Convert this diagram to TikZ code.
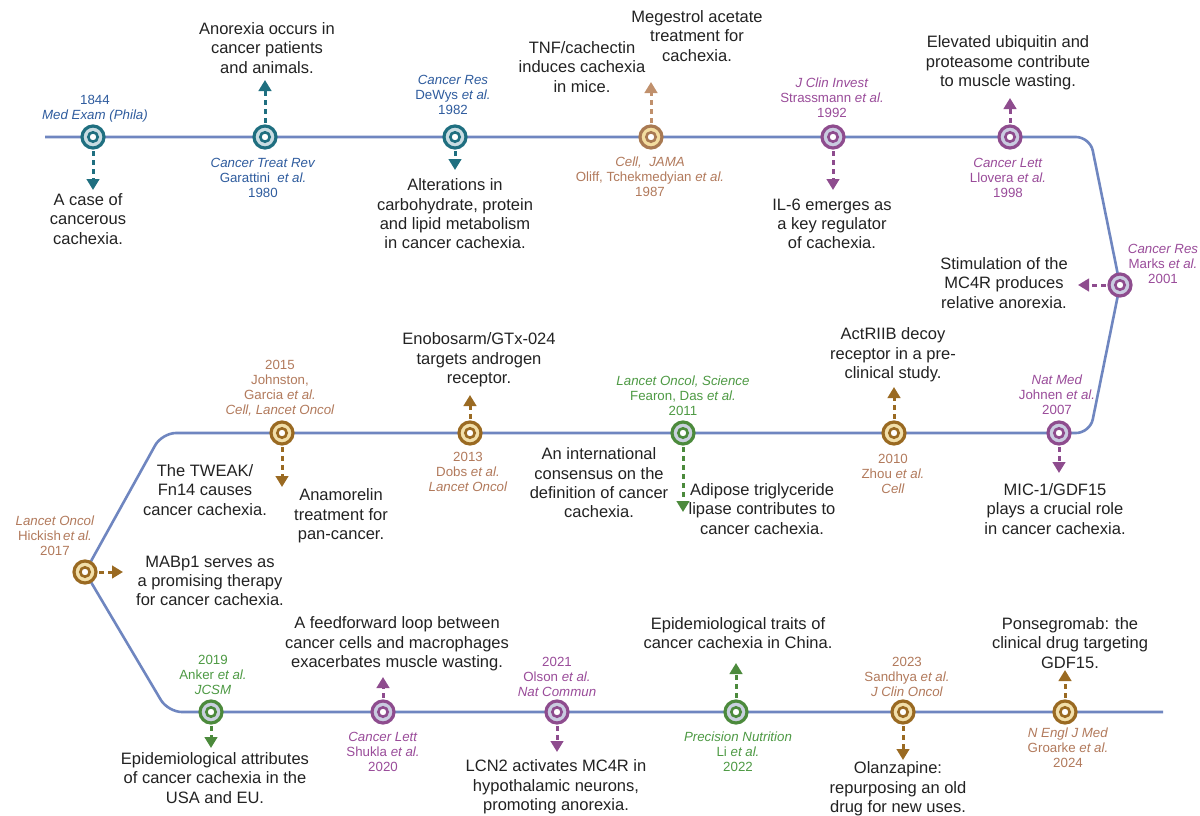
\documentclass[tikz,border=0pt]{standalone}
\usepackage{fontspec}
\setmainfont{Liberation Sans}
\usetikzlibrary{arrows.meta}
\definecolor{linec}{HTML}{6F86C0}
\definecolor{txtc}{HTML}{222222}
\definecolor{tealR}{HTML}{1F6F80}
\definecolor{tealF}{HTML}{C9DCE2}
\definecolor{blueC}{HTML}{2F5C9E}
\definecolor{tanR}{HTML}{A97A52}
\definecolor{tanF}{HTML}{F3DDA0}
\definecolor{tanA}{HTML}{C0906C}
\definecolor{brownC}{HTML}{B27A5C}
\definecolor{goldR}{HTML}{9A6A22}
\definecolor{goldF}{HTML}{F2DFAA}
\definecolor{purR}{HTML}{8E4C8E}
\definecolor{purF}{HTML}{C9CBE0}
\definecolor{purC}{HTML}{9A4C9A}
\definecolor{grnR}{HTML}{4C8A3C}
\definecolor{grnF}{HTML}{C9D0DE}
\definecolor{grnC}{HTML}{4E9A44}
\tikzset{
  tl/.style={draw=linec, line width=2.6pt, rounded corners=14pt},
  evn/.style={circle, line width=3.2pt, minimum size=22pt, inner sep=0pt},
  arr/.style={dash pattern=on 5pt off 4pt, line width=3pt, shorten <=1.5pt, -{Triangle[width=12.5pt,length=11pt]}},
  txt/.style={font=\fontsize{16.5}{19.3}\selectfont, text=txtc, align=center, inner sep=0pt},
  cit/.style={font=\fontsize{13.3}{15}\selectfont, align=center, inner sep=0pt}
}
\newcommand{\evmark}[4]{%
  \node[evn, draw=#3, fill=#4] (#1) at (#2) {};
  \fill[white, draw=#3, line width=2.6pt] (#1.center) circle (4.7pt);}
\begin{document}
\begin{tikzpicture}[x=1pt, y=-1pt]
\useasboundingbox[fill=white] (0,0) rectangle (1200,815);
% main time line
\draw[tl] (45,137) -- (1090,137) -- (1120,285) -- (1090,433) -- (162,433) -- (85,572) -- (168,712) -- (1163,712);

% ---------- 1844 ----------
\evmark{m1844}{93,137}{tealR}{tealF}
\node[cit, text=blueC] (c1844) at (95,109) {1844\\\textit{Med Exam (Phila)}};
\coordinate (a1844) at (93,190);
\draw[arr, draw=tealR] (m1844) -- (a1844);
\node[txt] (t1844) at (88,219) {A case of\\cancerous\\cachexia.};

% ---------- 1980 ----------
\evmark{m1980}{265,137}{tealR}{tealF}
\coordinate (a1980) at (265,80);
\draw[arr, draw=tealR] (m1980) -- (a1980);
\node[txt] (t1980) at (267,48) {Anorexia occurs in\\cancer patients\\and animals.};
\node[cit, text=blueC] (c1980) at (263,178) {\textit{Cancer Treat Rev}\\Garattini\ \ \textit{et al.}\\1980};

% ---------- 1982 ----------
\evmark{m1982}{455,137}{tealR}{tealF}
\node[cit, text=blueC] (c1982) at (453,95) {\textit{Cancer Res}\\DeWys \textit{et al.}\\1982};
\coordinate (a1982) at (455,170);
\draw[arr, draw=tealR] (m1982) -- (a1982);
\node[txt] (t1982) at (455,214) {Alterations in\\carbohydrate, protein\\and lipid metabolism\\in cancer cachexia.};

% ---------- 1987 ----------
\evmark{m1987}{651,137}{tanR}{tanF}
\coordinate (a1987) at (651,82);
\draw[arr, draw=tanA] (m1987) -- (a1987);
\node[txt] (t1987a) at (582,67) {TNF/cachectin\\induces cachexia\\in mice.};
\node[txt] (t1987b) at (697,36) {Megestrol acetate\\treatment for\\cachexia.};
\node[cit, text=brownC] (c1987) at (650,177) {\textit{Cell,\ \ JAMA}\\Oliff, Tchekmedyian \textit{et al.}\\1987};

% ---------- 1992 ----------
\evmark{m1992}{833,137}{purR}{purF}
\node[cit, text=purC] (c1992) at (832,98) {\textit{J Clin Invest}\\Strassmann \textit{et al.}\\1992};
\coordinate (a1992) at (833,190);
\draw[arr, draw=purR] (m1992) -- (a1992);
\node[txt] (t1992) at (832,224) {IL-6 emerges as\\a key regulator\\of cachexia.};

% ---------- 1998 ----------
\evmark{m1998}{1010,137}{purR}{purF}
\coordinate (a1998) at (1010,98);
\draw[arr, draw=purR] (m1998) -- (a1998);
\node[txt] (t1998) at (1008,63) {Elevated ubiquitin and\\proteasome contribute\\to muscle wasting.};
\node[cit, text=purC] (c1998) at (1008,178) {\textit{Cancer Lett}\\Llovera \textit{et al.}\\1998};

% ---------- 2001 ----------
\evmark{m2001}{1120,285}{purR}{purF}
\node[cit, text=purC] (c2001) at (1163,264) {\textit{Cancer Res}\\Marks \textit{et al.}\\2001};
\coordinate (a2001) at (1078,285);
\draw[arr, draw=purR] (m2001) -- (a2001);
\node[txt] (t2001) at (1004,283) {Stimulation of the\\MC4R produces\\relative anorexia.};

% ---------- 2007 ----------
\evmark{m2007}{1059,433}{purR}{purF}
\node[cit, text=purC] (c2007) at (1057,395) {\textit{Nat Med}\\Johnen \textit{et al.}\\2007};
\coordinate (a2007) at (1059,473);
\draw[arr, draw=purR] (m2007) -- (a2007);
\node[txt] (t2007) at (1055,509) {MIC-1/GDF15\\plays a crucial role\\in cancer cachexia.};

% ---------- 2010 ----------
\evmark{m2010}{894,433}{goldR}{goldF}
\coordinate (a2010) at (894,387);
\draw[arr, draw=goldR] (m2010) -- (a2010);
\node[txt] (t2010) at (893,355) {ActRIIB decoy\\receptor in a pre-\\clinical study.};
\node[cit, text=brownC] (c2010) at (893,474) {2010\\Zhou \textit{et al.}\\\textit{Cell}};

% ---------- 2011 ----------
\evmark{m2011}{683,433}{grnR}{grnF}
\node[cit, text=grnC] (c2011) at (683,396) {\textit{Lancet Oncol, Science}\\Fearon, Das \textit{et al.}\\2011};
\coordinate (a2011) at (683,512);
\draw[arr, draw=grnR] (m2011) -- (a2011);
\node[txt] (t2011a) at (599,483) {An international\\consensus on the\\definition of cancer\\cachexia.};
\node[txt] (t2011b) at (762,509) {Adipose triglyceride\\lipase contributes to\\cancer cachexia.};

% ---------- 2013 ----------
\evmark{m2013}{470,433}{goldR}{goldF}
\coordinate (a2013) at (470,395);
\draw[arr, draw=goldR] (m2013) -- (a2013);
\node[txt] (t2013) at (479,360) {Enobosarm/GTx-024\\targets androgen\\receptor.};
\node[cit, text=brownC] (c2013) at (468,472) {2013\\Dobs \textit{et al.}\\\textit{Lancet Oncol}};

% ---------- 2015 ----------
\evmark{m2015}{282,433}{goldR}{goldF}
\node[cit, text=brownC] (c2015) at (280,388) {2015\\Johnston,\\Garcia \textit{et al.}\\\textit{Cell, Lancet Oncol}};
\coordinate (a2015) at (282,487);
\draw[arr, draw=goldR] (m2015) -- (a2015);
\node[txt] (t2015a) at (205,490) {The TWEAK/\\Fn14 causes\\cancer cachexia.};
\node[txt] (t2015b) at (341,516) {Anamorelin\\treatment for\\pan-cancer.};

% ---------- 2017 ----------
\evmark{m2017}{85,572}{goldR}{goldF}
\node[cit, text=brownC] (c2017) at (55,536) {\textit{Lancet Oncol}\\Hickish\,\textit{et al.}\\2017};
\coordinate (a2017) at (123,572);
\draw[arr, draw=goldR] (m2017) -- (a2017);
\node[txt] (t2017) at (210,581) {MABp1 serves as\\a promising therapy\\for cancer cachexia.};

% ---------- 2019 ----------
\evmark{m2019}{211,712}{grnR}{grnF}
\node[cit, text=grnC] (c2019) at (213,675) {2019\\Anker \textit{et al.}\\\textit{JCSM}};
\coordinate (a2019) at (211,748);
\draw[arr, draw=grnR] (m2019) -- (a2019);
\node[txt] (t2019) at (215,778) {Epidemiological attributes\\of cancer cachexia in the\\USA and EU.};

% ---------- 2020 ----------
\evmark{m2020}{383,712}{purR}{purF}
\coordinate (a2020) at (383,677);
\draw[arr, draw=purR] (m2020) -- (a2020);
\node[txt] (t2020) at (397,644) {A feedforward loop between\\cancer cells and macrophages\\exacerbates muscle wasting.};
\node[cit, text=purC] (c2020) at (383,752) {\textit{Cancer Lett}\\Shukla \textit{et al.}\\2020};

% ---------- 2021 ----------
\evmark{m2021}{557,712}{purR}{purF}
\node[cit, text=purC] (c2021) at (557,677) {2021\\Olson \textit{et al.}\\\textit{Nat Commun}};
\coordinate (a2021) at (557,752);
\draw[arr, draw=purR] (m2021) -- (a2021);
\node[txt] (t2021) at (556,787) {LCN2 activates MC4R in\\hypothalamic neurons,\\promoting anorexia.};

% ---------- 2022 ----------
\evmark{m2022}{736,712}{grnR}{grnF}
\coordinate (a2022) at (736,663);
\draw[arr, draw=grnR] (m2022) -- (a2022);
\node[txt] (t2022) at (738,633) {Epidemiological traits of\\cancer cachexia in China.};
\node[cit, text=grnC] (c2022) at (738,752) {\textit{Precision Nutrition}\\Li \textit{et al.}\\2022};

% ---------- 2023 ----------
\evmark{m2023}{903,712}{goldR}{goldF}
\node[cit, text=brownC] (c2023) at (907,677) {2023\\Sandhya \textit{et al.}\\\textit{J Clin Oncol}};
\coordinate (a2023) at (903,760);
\draw[arr, draw=goldR] (m2023) -- (a2023);
\node[txt] (t2023) at (898,789) {Olanzapine:\\repurposing an old\\drug for new uses.};

% ---------- 2024 ----------
\evmark{m2024}{1065,712}{goldR}{goldF}
\coordinate (a2024) at (1065,670);
\draw[arr, draw=goldR] (m2024) -- (a2024);
\node[txt] (t2024) at (1070,643) {Ponsegromab: the\\clinical drug targeting\\GDF15.};
\node[cit, text=brownC] (c2024) at (1068,748) {\textit{N Engl J Med}\\Groarke \textit{et al.}\\2024};
\end{tikzpicture}
\end{document}
